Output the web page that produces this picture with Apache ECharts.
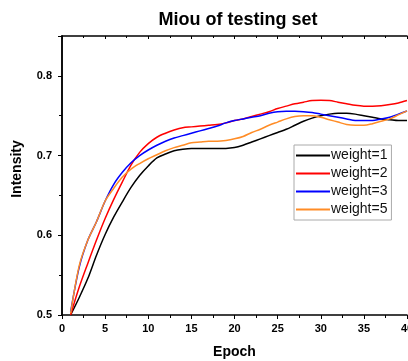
<!DOCTYPE html>
<html>
<head>
<meta charset="utf-8">
<script src="https://cdn.jsdelivr.net/npm/echarts@6/dist/echarts.min.js"></script>
<style>
  html, body { margin: 0; padding: 0; background: #fff; }
  #chart { width: 408px; height: 361px; }
</style>
</head>
<body>
<div id="chart"></div>
<script>
const epochs = Array.from({ length: 40 }, (_, i) => i + 1)

const weight1 = [0.500, 0.522, 0.546, 0.575, 0.601, 0.623, 0.642, 0.660, 0.675, 0.687,
  0.697, 0.702, 0.706, 0.708, 0.709, 0.709, 0.709, 0.709, 0.709, 0.710,
  0.713, 0.717, 0.721, 0.725, 0.729, 0.733, 0.738, 0.743, 0.747, 0.750,
  0.752, 0.753, 0.753, 0.752, 0.750, 0.748, 0.746, 0.745, 0.744, 0.744]
const weight2 = [0.500, 0.535, 0.565, 0.594, 0.621, 0.645, 0.667, 0.688, 0.704, 0.715,
  0.723, 0.728, 0.732, 0.735, 0.736, 0.737, 0.738, 0.739, 0.741, 0.744,
  0.746, 0.749, 0.752, 0.755, 0.759, 0.762, 0.765, 0.767, 0.769, 0.7695,
  0.769, 0.767, 0.765, 0.763, 0.762, 0.762, 0.7625, 0.764, 0.766, 0.769]
const weight3 = [0.504, 0.560, 0.594, 0.617, 0.643, 0.664, 0.679, 0.691, 0.700, 0.707,
  0.713, 0.718, 0.722, 0.725, 0.728, 0.731, 0.734, 0.737, 0.741, 0.744,
  0.746, 0.748, 0.750, 0.753, 0.755, 0.7555, 0.7555, 0.755, 0.754, 0.752,
  0.750, 0.748, 0.746, 0.744, 0.744, 0.744, 0.746, 0.748, 0.752, 0.756]
const weight5 = [0.502, 0.562, 0.594, 0.617, 0.643, 0.659, 0.673, 0.683, 0.690, 0.696,
  0.701, 0.706, 0.710, 0.713, 0.716, 0.717, 0.718, 0.718, 0.719, 0.721,
  0.724, 0.729, 0.733, 0.738, 0.742, 0.746, 0.749, 0.750, 0.750, 0.748,
  0.745, 0.742, 0.739, 0.738, 0.738, 0.740, 0.743, 0.746, 0.751, 0.756]

const seriesNames = ['weight=1', 'weight=2', 'weight=3', 'weight=5']
const seriesData = [weight1, weight2, weight3, weight5]
const colors = ['#000000', '#ff0000', '#0000ff', '#ff8c26']

const font = 'Arial, "Liberation Sans", sans-serif'

const chart = echarts.init(document.getElementById('chart'))

const axisLine = { show: true, lineStyle: { color: '#000', width: 1.5 } }

chart.setOption({
  backgroundColor: '#fff',
  animation: false,
  title: {
    text: 'Miou of testing set',
    left: 233,
    textAlign: 'center',
    top: 6,
    textStyle: { fontFamily: font, fontSize: 18, fontWeight: 'bold', color: '#000' }
  },
  legend: {
    orient: 'vertical',
    left: 294,
    top: 145,
    padding: [3, 4, 3, 2],
    itemGap: 3,
    itemWidth: 34,
    itemHeight: 2,
    icon: 'rect',
    borderColor: '#aaa',
    borderWidth: 1,
    backgroundColor: '#fff',
    textStyle: { fontFamily: font, fontSize: 14, color: '#111', padding: [0, 0, 0, -4], lineHeight: 15 },
    data: seriesNames
  },
  grid: { left: 62, right: 1, top: 36, bottom: 46, outerBoundsMode: 'none', containLabel: false },
  xAxis: [{
    type: 'value',
    min: 0,
    max: 40,
    interval: 5,
    name: 'Epoch',
    nameLocation: 'middle',
    nameGap: 30,
    nameTextStyle: { fontFamily: font, fontSize: 14, fontWeight: 'bold', color: '#000' },
    axisLine,
    axisTick: { show: true, length: 4, lineStyle: { color: '#000', width: 1 } },
    minorTick: { show: true, splitNumber: 2, length: 3, lineStyle: { color: '#000' } },
    splitLine: { show: false },
    axisLabel: { fontFamily: font, fontSize: 11, fontWeight: 'bold', color: '#000', margin: 8 }
  }, {
    type: 'value',
    position: 'top',
    min: 0,
    max: 40,
    interval: 5,
    axisLine,
    axisTick: { show: true, inside: true, length: 3, lineStyle: { color: '#000' } },
    minorTick: { show: true, splitNumber: 2, length: 2, lineStyle: { color: '#000' } },
    splitLine: { show: false },
    axisLabel: { show: false }
  }],
  yAxis: [{
    type: 'value',
    min: 0.5,
    max: 0.85,
    interval: 0.1,
    name: 'Intensity',
    nameLocation: 'middle',
    nameGap: 38,
    nameTextStyle: { fontFamily: font, fontSize: 14, fontWeight: 'bold', color: '#000', padding: [0, 0, 0, 13] },
    axisLine,
    axisTick: { show: true, length: 4, lineStyle: { color: '#000' } },
    minorTick: { show: true, splitNumber: 2, length: 3, lineStyle: { color: '#000' } },
    splitLine: { show: false },
    axisLabel: {
      fontFamily: font, fontSize: 11, fontWeight: 'bold', color: '#000', margin: 10,
      showMaxLabel: false,
      formatter: v => v.toFixed(1)
    }
  }, {
    type: 'value',
    position: 'right',
    min: 0.5,
    max: 0.85,
    interval: 0.1,
    axisLine,
    axisTick: { show: true, inside: true, length: 3, lineStyle: { color: '#000' } },
    minorTick: { show: true, splitNumber: 2, length: 2, lineStyle: { color: '#000' } },
    splitLine: { show: false },
    axisLabel: { show: false }
  }],
  series: seriesNames.map((name, i) => ({
    name,
    type: 'line',
    smooth: 0.3,
    showSymbol: false,
    symbol: 'none',
    color: colors[i],
    lineStyle: { width: 1.5, color: colors[i] },
    data: epochs.map((e, j) => [e, seriesData[i][j]])
  }))
})
</script>
</body>
</html>
